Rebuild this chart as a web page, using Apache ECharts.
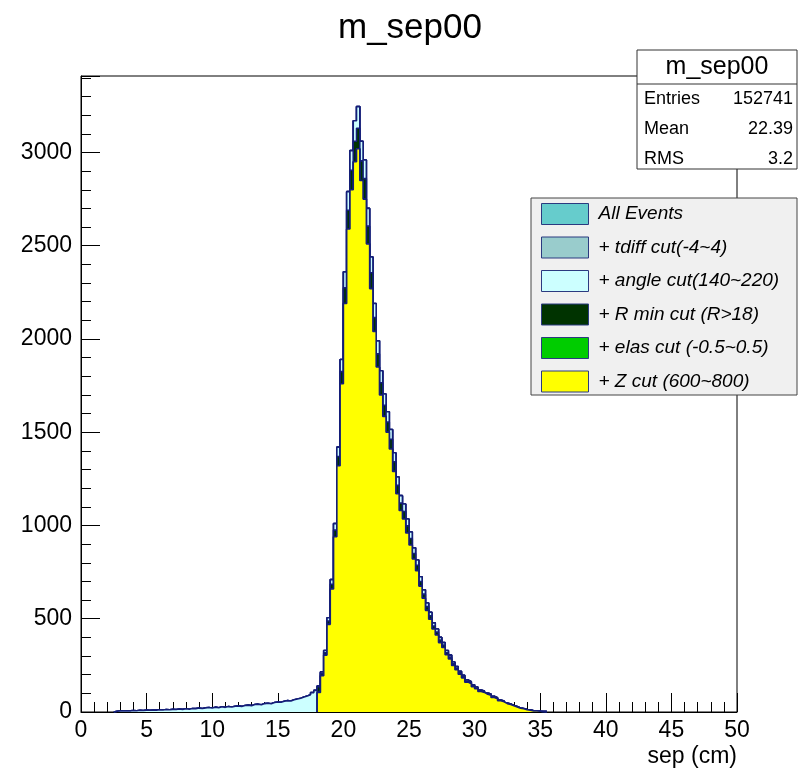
<!DOCTYPE html>
<html>
<head>
<meta charset="utf-8">
<script src="https://cdn.jsdelivr.net/npm/echarts@6/dist/echarts.min.js"></script>
<style>
  html, body { margin: 0; padding: 0; background: #fff; }
  #chart { width: 806px; height: 769px; }
</style>
</head>
<body>
<div id="chart"></div>
<script>
// histogram bins (cm)
const binWidth = 0.25
const allStart = 2.5   // first bin of the uncut histograms
const cutStart = 18.0  // first bin after the R min cut

// All Events (tdiff / angle cut lie on top of it at this resolution), bins 2.5 .. 35.25
const allEvents = [
  4, 6, 5, 7, 6, 8, 7, 9, 8, 10,
  9, 11, 10, 12, 11, 13, 12, 14, 13, 16,
  14, 17, 15, 19, 18, 21, 19, 22, 24, 21,
  26, 23, 28, 25, 29, 27, 31, 33, 30, 35,
  37, 34, 40, 42, 39, 45, 47, 44, 51, 54,
  52, 58, 61, 59, 66, 70, 74, 80, 86, 92,
  104, 116,
  140, 215, 330, 505, 710, 1010, 1420, 1890, 2360, 2790,
  3010, 3170, 3246, 3060, 2960, 2700, 2440, 2190, 1990, 1830,
  1705, 1610, 1515, 1390, 1260, 1160, 1115, 1035, 965, 880,
  815, 725, 655, 585, 535, 478, 445, 400, 372, 330,
  305, 268, 244, 218, 197, 172, 162, 146, 134, 118,
  113, 102, 97, 84, 76, 64, 59, 48, 43, 35,
  29, 21, 18, 13, 11, 7, 6, 4, 3, 2
]
const tdiffCut = allEvents
const angleCut = allEvents

// + R min cut, bins 18.0 .. 35.25
const rminCut = [
  135, 207, 318, 488, 685, 975, 1370, 1825, 2275, 2690,
  2905, 3060, 3130, 2955, 2860, 2605, 2355, 2115, 1920, 1765,
  1645, 1555, 1462, 1342, 1215, 1120, 1075, 998, 930, 850,
  787, 700, 632, 565, 516, 461, 429, 386, 359, 318,
  294, 258, 235, 210, 190, 166, 156, 141, 129, 114,
  109, 98, 93, 81, 73, 62, 57, 46, 41, 34,
  28, 20, 17, 12, 10, 7, 6, 4, 3, 2
]

// + Z cut (elas cut coincides with it), bins 18.0 .. 35.25
const zCut = [
  105, 195, 305, 470, 660, 940, 1320, 1760, 2190, 2590,
  2800, 2950, 3020, 2850, 2750, 2510, 2270, 2040, 1850, 1700,
  1585, 1500, 1410, 1290, 1170, 1080, 1035, 960, 895, 820,
  758, 675, 610, 545, 497, 445, 413, 372, 346, 307,
  284, 249, 227, 203, 183, 160, 151, 136, 125, 110,
  105, 95, 90, 78, 71, 60, 55, 45, 40, 33,
  27, 20, 17, 12, 10, 6, 5, 4, 3, 2
]
const elasCut = zCut

const legendNames = ['All Events', '+ tdiff cut(-4~4)', '+ angle cut(140~220)', '+ R min cut (R>18)', '+ elas cut (-0.5~0.5)', '+ Z cut (600~800)']
const fillColors = ['#66cccc', '#99cccc', '#ccffff', '#003300', '#00cc00', '#ffff00']

const statsLabels = ['Entries', 'Mean', 'RMS']
const statsValues = ['152741', '22.39', '3.2']

const FONT = '"Liberation Sans", Arial, Helvetica, sans-serif'
const LINE = '#141e78'

// 直方图 -> 阶梯线数据
function toSteps(start, values) {
    const pts = [[start, 0]]
    values.forEach((v, i) => pts.push([start + i * binWidth, v]))
    pts.push([start + values.length * binWidth, 0])
    return pts
}

const seriesData = [
    toSteps(allStart, allEvents),
    toSteps(allStart, tdiffCut),
    toSteps(allStart, angleCut),
    toSteps(cutStart, rminCut),
    toSteps(cutStart, elasCut),
    toSteps(cutStart, zCut)
]

const series = legendNames.map((name, i) => ({
    name,
    type: 'line',
    step: 'end',
    data: seriesData[i],
    showSymbol: false,
    symbol: 'none',
    silent: true,
    color: fillColors[i],
    lineStyle: { color: LINE, width: 1.6 },
    areaStyle: { color: fillColors[i], opacity: 1 },
    z: 2 + i * 0.01
}))

// 统计框
const statsChildren = [
    { type: 'rect', shape: { x: 637, y: 50, width: 160, height: 119 }, style: { fill: '#fff', stroke: '#333', lineWidth: 1 } },
    { type: 'line', shape: { x1: 637, y1: 84, x2: 797, y2: 84 }, style: { stroke: '#333', lineWidth: 1 } },
    { type: 'text', x: 717, y: 67, style: { text: 'm_sep00', font: '25px ' + FONT, fill: '#000', align: 'center', verticalAlign: 'middle' } }
]
statsLabels.forEach((lab, i) => {
    const y = 99 + i * 30
    statsChildren.push({ type: 'text', x: 644, y, style: { text: lab, font: '18px ' + FONT, fill: '#000', align: 'left', verticalAlign: 'middle' } })
    statsChildren.push({ type: 'text', x: 793, y, style: { text: statsValues[i], font: '18px ' + FONT, fill: '#000', align: 'right', verticalAlign: 'middle' } })
})

const option = {
    animation: false,
    backgroundColor: '#fff',
    title: {
        text: 'm_sep00',
        left: 333,
        top: 6,
        textStyle: { fontSize: 35, fontWeight: 'normal', color: '#000', fontFamily: FONT }
    },
    grid: {
        left: 81, right: 69, top: 76, bottom: 57,
        show: true, borderColor: '#000', borderWidth: 1, backgroundColor: 'transparent'
    },
    legend: {
        orient: 'vertical',
        left: 541,
        top: 203,
        padding: 0,
        icon: 'rect',
        itemWidth: 47,
        itemHeight: 21,
        itemGap: 11.5,
        selectedMode: false,
        z: 5,
        textStyle: { fontSize: 19, fontStyle: 'italic', color: '#000', fontFamily: FONT, padding: [0, 0, 0, 5] },
        data: legendNames.map((name, i) => ({
            name,
            itemStyle: { color: fillColors[i], borderColor: '#2b3a80', borderWidth: 1 }
        }))
    },
    xAxis: {
        type: 'value',
        min: 0, max: 50, interval: 5,
        axisLine: { show: true, onZero: false, lineStyle: { color: '#000' } },
        axisTick: { show: true, inside: true, length: 19, lineStyle: { color: '#000' } },
        minorTick: { show: true, splitNumber: 5, length: 10, lineStyle: { color: '#000' } },
        splitLine: { show: false },
        axisLabel: { fontSize: 23, color: '#000', fontFamily: FONT, margin: 7, formatter: v => String(v) }
    },
    yAxis: {
        type: 'value',
        min: 0, max: 3410, interval: 500,
        axisLine: { show: true, lineStyle: { color: '#000' } },
        axisTick: { show: true, inside: true, length: 19, lineStyle: { color: '#000' } },
        minorTick: { show: true, splitNumber: 5, length: 10, lineStyle: { color: '#000' } },
        splitLine: { show: false },
        axisLabel: { fontSize: 23, color: '#000', fontFamily: FONT, margin: 9, showMaxLabel: false, formatter: v => String(v) }
    },
    graphic: [
        { type: 'rect', z: 4, shape: { x: 531, y: 198, width: 266, height: 197 }, style: { fill: '#f0f0f0', stroke: '#444', lineWidth: 1 } },
        { type: 'group', z: 4, children: statsChildren },
        { type: 'text', z: 4, x: 737, y: 757, style: { text: 'sep (cm)', font: '23px ' + FONT, fill: '#000', align: 'right', verticalAlign: 'middle' } }
    ],
    series
}

const chart = echarts.init(document.getElementById('chart'), null, { renderer: 'canvas' })
chart.setOption(option)
</script>
</body>
</html>
